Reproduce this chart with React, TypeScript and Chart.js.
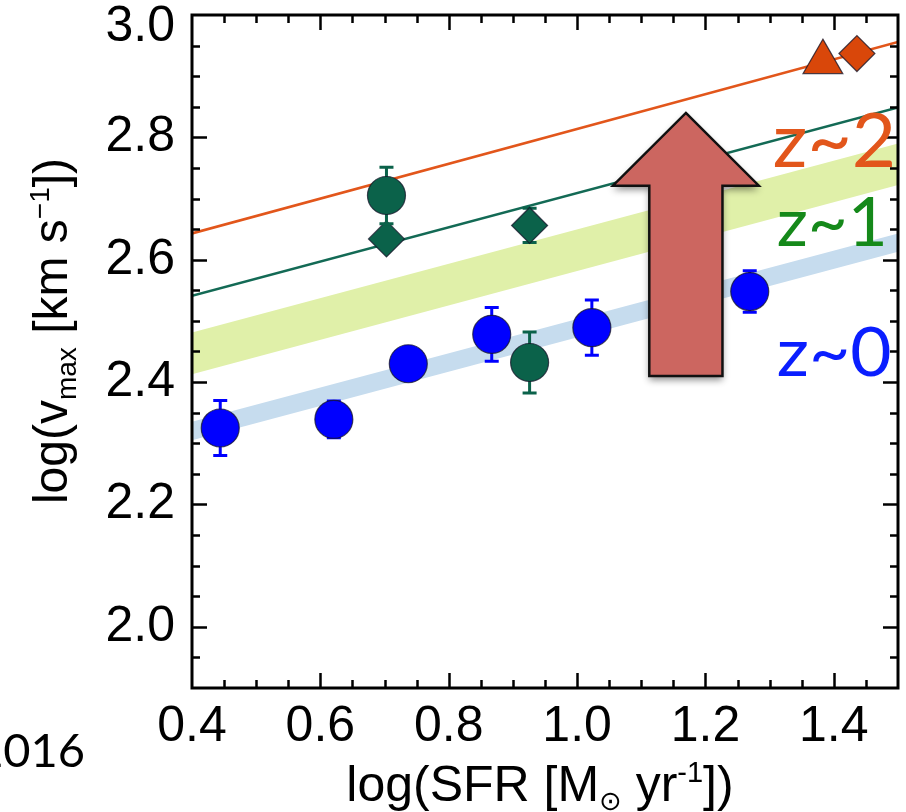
import React, { useEffect, useRef } from 'react';
import { Chart, registerables } from 'chart.js';

Chart.register(...registerables);

// ---- axis ranges and tick labels ----
const X_MIN = 0.4;
const X_MAX = 1.5;
const Y_MIN = 1.9;
const Y_MAX = 3.0;
const xTickValues = [0.4, 0.6, 0.8, 1.0, 1.2, 1.4];
const yTickValues = [2.0, 2.2, 2.4, 2.6, 2.8, 3.0];
const MINOR_STEP = 0.05;
const MAJOR_STEP = 0.2;

// ---- z~0 (blue circles) ----
const z0X = [0.444, 0.621, 0.737, 0.867, 1.023, 1.269];
const z0Y = [2.325, 2.339, 2.43, 2.478, 2.489, 2.548];
const z0Err = [0.045, 0.03, 0.02, 0.044, 0.045, 0.034];

// ---- z~1 (dark green circles and diamonds) ----
const z1CircX = [0.703, 0.926];
const z1CircY = [2.705, 2.432];
const z1CircErr = [0.046, 0.05];
const z1DiamX = [0.703, 0.926];
const z1DiamY = [2.634, 2.656];
const z1DiamErr = [0, 0.028];

// ---- z~2 (orange triangle and diamond) ----
const z2TriX = [1.383];
const z2TriY = [2.923];
const z2DiamX = [1.436];
const z2DiamY = [2.937];

// ---- relations (lines and bands) ----
const fitX = [0.4, 1.5];
const fitZ2 = [2.643, 2.956];
const fitZ1 = [2.541, 2.849];
const bandZ1Upper = [2.481, 2.79];
const bandZ1Lower = [2.413, 2.722];
const bandZ0Upper = [2.335, 2.643];
const bandZ0Lower = [2.305, 2.613];

// ---- annotations (data coordinates; width = data-x span of the label) ----
const arrowSpec = { x: 1.1695, tipY: 2.84, headBaseY: 2.721, tailY: 2.41, headHalf: 0.1137, shaftHalf: 0.057 };
const zLabels = [
  { text: 'z~2', x: 1.305, y: 2.751, width: 0.192, size: 75, color: '#e2561b' },
  { text: 'z~1', x: 1.311, y: 2.623, width: 0.173, size: 67, color: '#15891a' },
  { text: 'z~0', x: 1.311, y: 2.41, width: 0.179, size: 67, color: '#0a1eff' },
];

const FONT = '"Liberation Sans", Arial, Helvetica, sans-serif';
const ZFONT = 'Lato, "Open Sans", sans-serif';

const C_BLUE = '#0000ff';
const C_GREEN = '#0b624a';
const C_ORANGE = '#d9470a';

const pts = (xs: number[], ys: number[]) => xs.map((x, i) => ({ x, y: ys[i] }));

type Seg = { t: string; size: number; dy: number; family?: string };

function segFont(s: Seg) {
  return `${s.size}px ${s.family || FONT}`;
}

function drawRich(ctx: CanvasRenderingContext2D, segs: Seg[], cx: number, baseline: number) {
  let total = 0;
  const widths = segs.map((s) => {
    ctx.font = segFont(s);
    const w = ctx.measureText(s.t).width;
    total += w;
    return w;
  });
  let x = cx - total / 2;
  ctx.textAlign = 'left';
  ctx.textBaseline = 'alphabetic';
  segs.forEach((s, i) => {
    ctx.font = segFont(s);
    ctx.fillText(s.t, x, baseline + s.dy);
    x += widths[i];
  });
}

const decorPlugin = {
  id: 'decor',
  beforeDatasetDraw(chart: any, args: any) {
    const ds = chart.data.datasets[args.index];
    const errs: number[] | undefined = ds.errorBars;
    if (!errs) return;
    const ctx = chart.ctx;
    const xs = chart.scales.x;
    const ys = chart.scales.y;
    ctx.save();
    ctx.strokeStyle = ds.backgroundColor;
    ctx.lineWidth = 3;
    ds.data.forEach((p: any, i: number) => {
      const e = errs[i];
      if (!e) return;
      const px = xs.getPixelForValue(p.x);
      const pTop = ys.getPixelForValue(p.y + e);
      const pBot = ys.getPixelForValue(p.y - e);
      ctx.beginPath();
      ctx.moveTo(px, pTop);
      ctx.lineTo(px, pBot);
      ctx.moveTo(px - 7, pTop);
      ctx.lineTo(px + 7, pTop);
      ctx.moveTo(px - 7, pBot);
      ctx.lineTo(px + 7, pBot);
      ctx.stroke();
    });
    ctx.restore();
  },
  afterDatasetsDraw(chart: any) {
    const ctx = chart.ctx as CanvasRenderingContext2D;
    const { left, right, top, bottom } = chart.chartArea;
    const xs = chart.scales.x;
    const ys = chart.scales.y;

    // inward ticks on all four sides
    ctx.save();
    ctx.strokeStyle = '#000';
    ctx.lineWidth = 2.5;
    const nX = Math.round((X_MAX - X_MIN) / MINOR_STEP);
    for (let i = 1; i < nX; i++) {
      const v = X_MIN + i * MINOR_STEP;
      const major = Math.abs((v - X_MIN) / MAJOR_STEP - Math.round((v - X_MIN) / MAJOR_STEP)) < 1e-6;
      const len = major ? 15 : 8;
      const px = Math.round(xs.getPixelForValue(v)) + 0.5;
      ctx.beginPath();
      ctx.moveTo(px, bottom);
      ctx.lineTo(px, bottom - len);
      ctx.moveTo(px, top);
      ctx.lineTo(px, top + len);
      ctx.stroke();
    }
    const nY = Math.round((Y_MAX - Y_MIN) / MINOR_STEP);
    for (let i = 1; i < nY; i++) {
      const v = Y_MIN + i * MINOR_STEP;
      const major = Math.abs((v - 2.0) / MAJOR_STEP - Math.round((v - 2.0) / MAJOR_STEP)) < 1e-6;
      const len = major ? 15 : 8;
      const py = Math.round(ys.getPixelForValue(v)) + 0.5;
      ctx.beginPath();
      ctx.moveTo(left, py);
      ctx.lineTo(left + len, py);
      ctx.moveTo(right, py);
      ctx.lineTo(right - len, py);
      ctx.stroke();
    }
    // frame
    ctx.lineWidth = 3;
    ctx.strokeRect(left, top, right - left, bottom - top);
    ctx.restore();

    // arrow
    const tipX = xs.getPixelForValue(arrowSpec.x);
    const tipY = ys.getPixelForValue(arrowSpec.tipY);
    const headY = ys.getPixelForValue(arrowSpec.headBaseY);
    const tailY = ys.getPixelForValue(arrowSpec.tailY);
    const hw = xs.getPixelForValue(arrowSpec.x + arrowSpec.headHalf) - tipX;
    const sw = xs.getPixelForValue(arrowSpec.x + arrowSpec.shaftHalf) - tipX;
    const path = () => {
      ctx.beginPath();
      ctx.moveTo(tipX, tipY);
      ctx.lineTo(tipX + hw, headY);
      ctx.lineTo(tipX + sw, headY);
      ctx.lineTo(tipX + sw, tailY);
      ctx.lineTo(tipX - sw, tailY);
      ctx.lineTo(tipX - sw, headY);
      ctx.lineTo(tipX - hw, headY);
      ctx.closePath();
    };
    ctx.save();
    ctx.shadowColor = 'rgba(0,0,0,0.45)';
    ctx.shadowBlur = 7;
    ctx.shadowOffsetY = 4;
    ctx.fillStyle = '#cc6660';
    path();
    ctx.fill();
    ctx.restore();
    ctx.save();
    ctx.strokeStyle = '#111';
    ctx.lineWidth = 2.5;
    ctx.lineJoin = 'miter';
    path();
    ctx.stroke();
    ctx.restore();

    // z labels (stretched horizontally to the reference width)
    zLabels.forEach((l) => {
      ctx.save();
      ctx.textAlign = 'left';
      ctx.textBaseline = 'alphabetic';
      ctx.font = `${l.size}px ${ZFONT}`;
      ctx.fillStyle = l.color;
      const x0 = xs.getPixelForValue(l.x);
      const target = xs.getPixelForValue(l.x + l.width) - x0;
      const w = ctx.measureText(l.text).width || target;
      ctx.translate(x0, ys.getPixelForValue(l.y));
      ctx.scale(target / w, 1);
      ctx.fillText(l.text, 0, 0);
      ctx.restore();
    });
  },
  afterDraw(chart: any) {
    const ctx = chart.ctx as CanvasRenderingContext2D;
    ctx.save();
    ctx.fillStyle = '#000';
    // x title
    drawRich(
      ctx,
      [
        { t: 'log(SFR [M', size: 50, dy: 0 },
        { t: '\u2299', size: 27, dy: 9, family: '"DejaVu Sans", sans-serif' },
        { t: ' yr', size: 50, dy: 0 },
        { t: '-1', size: 29, dy: -19 },
        { t: '])', size: 50, dy: 0 },
      ],
      540,
      801
    );
    // y title (rotated)
    ctx.translate(67, 331);
    ctx.rotate(-Math.PI / 2);
    drawRich(
      ctx,
      [
        { t: 'log(v', size: 48, dy: 0 },
        { t: 'max', size: 28, dy: 9 },
        { t: ' [km s', size: 48, dy: 0 },
        { t: '\u22121', size: 28, dy: -18 },
        { t: '])', size: 48, dy: 0 },
      ],
      0,
      0
    );
    ctx.restore();
    // caption fragment
    ctx.save();
    ctx.fillStyle = '#000';
    ctx.font = `47px ${ZFONT}`;
    ctx.textAlign = 'right';
    ctx.textBaseline = 'alphabetic';
    ctx.fillText('2016', 85, 767);
    ctx.restore();
  },
};

export default function App() {
  const ref = useRef<HTMLCanvasElement>(null);
  useEffect(() => {
    if (!ref.current) return;
    const lineDs = (label: string, ys: number[], color: string, width: number, extra: any = {}) => ({
      label,
      data: pts(fitX, ys),
      borderColor: color,
      backgroundColor: color,
      borderWidth: width,
      pointRadius: 0,
      fill: false,
      tension: 0,
      ...extra,
    });
    const pointDs = (label: string, xs: number[], ys: number[], color: string, style: string, radius: number, errs?: number[]) => ({
      label,
      data: pts(xs, ys),
      showLine: false,
      pointStyle: style,
      pointRadius: radius,
      backgroundColor: color,
      borderColor: 'rgba(20,20,40,0.75)',
      borderWidth: 1.2,
      errorBars: errs,
      order: 1,
    });
    const chart = new Chart(ref.current, {
      type: 'line',
      data: {
        datasets: [
          lineDs('z0 band lower', bandZ0Lower, 'rgba(0,0,0,0)', 0, { order: 30 }),
          lineDs('z0 band upper', bandZ0Upper, 'rgba(0,0,0,0)', 0, { order: 30, fill: '-1', backgroundColor: '#c6dcee' }),
          lineDs('z1 band lower', bandZ1Lower, 'rgba(0,0,0,0)', 0, { order: 30 }),
          lineDs('z1 band upper', bandZ1Upper, 'rgba(0,0,0,0)', 0, { order: 30, fill: '-1', backgroundColor: '#e0f0a9' }),
          lineDs('z2 relation', fitZ2, '#e2561b', 2.5, { order: 20 }),
          lineDs('z1 relation', fitZ1, '#136a55', 2.5, { order: 20 }),
          pointDs('z0', z0X, z0Y, C_BLUE, 'circle', 19, z0Err),
          pointDs('z1 circles', z1CircX, z1CircY, C_GREEN, 'circle', 19, z1CircErr),
          pointDs('z1 diamonds', z1DiamX, z1DiamY, C_GREEN, 'rectRot', 18, z1DiamErr),
          pointDs('z2 triangle', z2TriX, z2TriY, C_ORANGE, 'triangle', 23),
          pointDs('z2 diamond', z2DiamX, z2DiamY, C_ORANGE, 'rectRot', 18),
        ] as any,
      },
      options: {
        responsive: false,
        animation: false,
        devicePixelRatio: 1,
        events: [],
        layout: { autoPadding: false, padding: { top: 15, right: 8, left: 0, bottom: 0 } },
        plugins: { legend: { display: false }, tooltip: { enabled: false } },
        scales: {
          x: {
            type: 'linear',
            position: 'bottom',
            min: X_MIN,
            max: X_MAX,
            grid: { display: false, drawTicks: false },
            border: { display: false },
            afterBuildTicks: (s: any) => {
              s.ticks = xTickValues.map((value) => ({ value }));
            },
            afterFit: (s: any) => {
              s.height = 124;
              s.paddingLeft = 0;
              s.paddingRight = 0;
            },
            ticks: {
              padding: 9,
              maxRotation: 0,
              autoSkip: false,
              color: '#000',
              font: { family: FONT, size: 50 },
              callback: (v: any) => Number(v).toFixed(1),
            },
          },
          y: {
            type: 'linear',
            min: Y_MIN,
            max: Y_MAX,
            grid: { display: false, drawTicks: false },
            border: { display: false },
            afterBuildTicks: (s: any) => {
              s.ticks = yTickValues.map((value) => ({ value }));
            },
            afterFit: (s: any) => {
              s.width = 192;
              s.paddingTop = 0;
              s.paddingBottom = 0;
            },
            ticks: {
              padding: 17,
              autoSkip: false,
              color: '#000',
              font: (c: any) =>
                c.tick && Math.abs(c.tick.value - Y_MAX) < 1e-9
                  ? { family: FONT, size: 50, lineHeight: '25px' }
                  : { family: FONT, size: 50 },
              callback: (v: any) => (Math.abs(Number(v) - Y_MAX) < 1e-9 ? ['', Number(v).toFixed(1)] : Number(v).toFixed(1)),
            },
          },
        },
      } as any,
      plugins: [decorPlugin],
    });
    return () => chart.destroy();
  }, []);
  return (
    <div style={{ position: 'absolute', left: 0, top: 0, width: 906, height: 812, background: '#fff' }}>
      <canvas ref={ref} width={906} height={812} style={{ display: 'block', width: 906, height: 812 }} />
    </div>
  );
}
